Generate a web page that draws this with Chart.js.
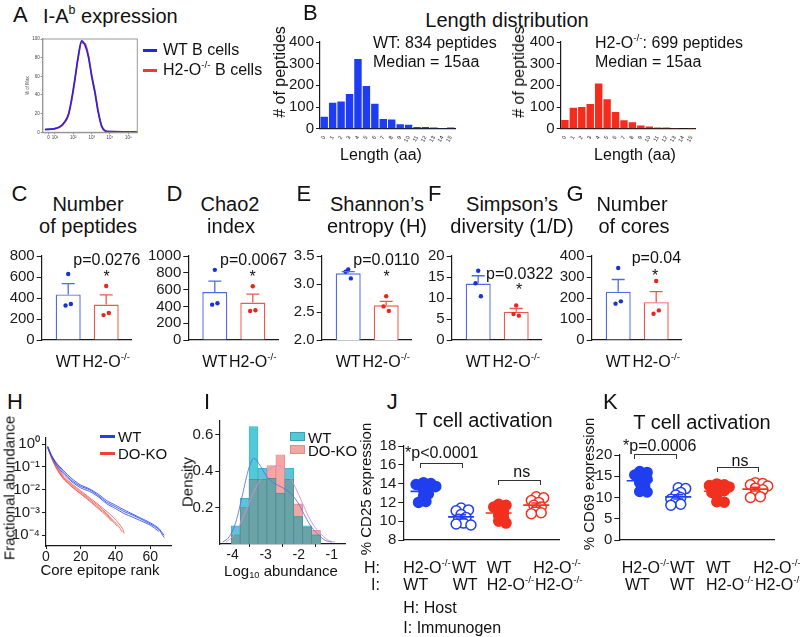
<!DOCTYPE html>
<html><head><meta charset="utf-8">
<script src="https://cdn.jsdelivr.net/npm/chart.js@4.4.1/dist/chart.umd.min.js"></script>
<style>
html,body{margin:0;padding:0;background:#fff}
#root{position:relative;width:800px;height:637px;overflow:hidden;background:#fff;font-family:"Liberation Sans",Arial,Helvetica,sans-serif;color:#111}
.t{position:absolute;white-space:nowrap;line-height:1}
canvas{position:absolute}
sup{font-size:0.62em;vertical-align:0.75em;line-height:0}
sub{font-size:0.62em;vertical-align:-0.3em;line-height:0}
.ln{position:absolute}
</style></head><body><div id="root"></div>
<script>
// ================= DATA =================
// A: I-Ab expression histogram (x in log10 units)
const aLog = [0.45,0.91,1.27,1.55,1.73,1.91,2.09,2.27,2.45,2.64,2.82,3.00,3.18,3.36,3.55,3.73,4.00,5.49];
const aWT  = [3,3.7,6,12,19,36,58,82,98,93,81,60,42,21,6,1.5,0.7,0.5];
const aKO  = [3,3.5,5.5,11,18,34,56,80,96,95,83,62,44,23,7,2,0.8,0.5];
const aTickPos = [0.64,1,2,3,4,5];
const aTickLab = ['0','10¹','10²','10³','10⁴','10⁵'];
const aYTicks = [0,20,40,60,80,100];

// B: length distribution
const bLengths = ['8','10','12','14','16','18','20','22','24','26','28','30','32','34','36','38'];
const bWT = [55,120,125,160,322,197,115,45,42,20,18,8,8,5,3,5];
const bKO = [40,97,100,114,209,136,77,39,30,15,10,6,5,3,2,3];
const bYTicks = [0,100,200,300,400];

// C-G: bar means, SEM tops, individual values
const cgGroups = ['WT','H2-O-/-'];
const cBar=[434,337], cErr=[537,429], cWT=[629,329,343], cKO=[515,237,257];
const dBar=[570,445], dErr=[700,545], dWT=[835,421,438], dKO=[640,345,355];
const eBar=[3.19,2.62], eErr=[3.22,2.69], eWT=[3.26,3.22,3.10], eKO=[2.78,2.60,2.52];
const fBar=[13.45,6.7], fErr=[15.3,7.5], fWT=[16.5,13.5,10.4], fKO=[8.2,6.2,5.8];
const gBar=[230,180], gErr=[288,230], gWT=[343,173,184], gKO=[281,125,141];
const cTicks=[0,200,400,600,800], dTicks=[0,200,400,600,800,1000], eTicks=[2.0,2.5,3.0,3.5], fTicks=[0,5,10,15,20], gTicks=[0,100,200,300,400];

// H: fractional abundance vs core epitope rank
const hRankWT = [1,3,6,10,15,20,25,30,35,40,45,50,55,60,65,68];
const hWT1 = [0.79,0.35,0.14,0.060,0.025,0.014,0.010,0.0056,0.0028,0.0018,0.0011,0.00076,0.00050,0.00032,0.00018,0.00008];
const hWT2 = [0.70,0.30,0.12,0.050,0.022,0.012,0.0085,0.0050,0.0024,0.0015,0.0009,0.00062,0.00042,0.00028,0.00015];
const hWT3 = [0.75,0.32,0.15,0.070,0.030,0.016,0.011,0.0065,0.0033,0.0021,0.0013,0.00085,0.00055,0.00036,0.00020,0.00010];
const hRankKO = [1,3,6,10,15,20,25,30,35,38,41,44,45];
const hKO1 = [0.80,0.30,0.10,0.035,0.016,0.008,0.0040,0.0020,0.0009,0.0005,0.0003,0.00014];
const hKO2 = [0.70,0.28,0.09,0.032,0.014,0.007,0.0035,0.0017,0.0008,0.00045,0.00025];
const hKO3 = [0.75,0.33,0.12,0.040,0.018,0.009,0.0045,0.0023,0.0011,0.0007,0.0004,0.0002,0.00012];
const hKO4 = [0.72,0.26,0.085,0.030,0.013,0.0065,0.0032,0.0015,0.0007,0.0004];
const hXTicks = [0,20,40,60];
const hYTicks = [1e-4,1e-3,1e-2,1e-1,1];
const hYLabels = ['10⁻⁴','10⁻³','10⁻²','10⁻¹','10⁰'];

// I: density histogram of log10 abundance
const iBins = [-3.905,-3.635,-3.365,-3.095,-2.825,-2.555,-2.285,-2.015,-1.745,-1.475];
const iWT = [0.10,0.25,0.645,0.415,0.36,0.28,0.415,0.15,0.10,0.05];
const iKO = [0.05,0.20,0.355,0.355,0.43,0.49,0.355,0.22,0.09,0.075];
const iKdeXWT = [-4.3,-4.1,-3.9,-3.7,-3.5,-3.35,-3.2,-3.0,-2.8,-2.6,-2.4,-2.2,-2.0,-1.8,-1.6,-1.4,-1.2,-1.0];
const iKdeWT  = [0.01,0.04,0.12,0.27,0.42,0.47,0.44,0.38,0.34,0.32,0.30,0.27,0.22,0.15,0.09,0.05,0.02,0.01];
const iKdeXKO = [-4.2,-4.0,-3.8,-3.6,-3.4,-3.2,-3.0,-2.8,-2.65,-2.5,-2.3,-2.1,-1.9,-1.7,-1.5,-1.3,-1.1,-0.9];
const iKdeKO  = [0.01,0.04,0.10,0.18,0.27,0.34,0.39,0.42,0.43,0.42,0.38,0.31,0.23,0.15,0.09,0.05,0.02,0.01];
const iXTicks = [-4,-3,-2,-1];
const iYTicks = [0.2,0.4,0.6];

// J: % CD25 expression
const jG1 = [14.1,14.0,13.9,13.7,13.3,12.9,12.6,12.1,12.0];
const jG2 = [11.4,11.2,11.1,10.7,10.4,10.2,9.8,9.6,9.7];
const jG3 = [11.8,11.7,11.5,11.2,10.9,10.6,10.3,10.0,9.8];
const jG4 = [12.6,12.5,12.2,12.0,11.7,11.5,11.2,10.9,10.8];
const jTicks = [8,10,12,14,16,18];
// K: % CD69 expression
const kG1 = [16.1,15.9,15.3,15.0,14.3,13.5,12.8,11.4,11.3];
const kG2 = [12.3,12.1,11.2,10.6,10.0,9.6,9.0,8.4,8.2];
const kG3 = [13.2,13.0,12.8,12.5,12.0,11.6,11.2,10.6,9.0,8.9];
const kG4 = [13.5,13.3,13.0,12.7,12.2,11.8,11.0,10.2,10.0];
const kTicks = [0,5,10,15,20];

// ================= STYLE / HELPERS =================
const FONT = '"Liberation Sans", Arial, Helvetica, sans-serif';
const INK = '#1a1a1a';
const BLUE = '#1f3ff0', RED = '#f2301f';
const root = document.getElementById('root');
Chart.defaults.font.family = FONT;
Chart.defaults.color = INK;
Chart.defaults.animation = false;
Chart.defaults.responsive = false;
Chart.defaults.maintainAspectRatio = false;
Chart.defaults.plugins.legend.display = false;
Chart.defaults.plugins.tooltip.enabled = false;

function txt(x, y, html, size, align, extra) {
  const d = document.createElement('div');
  d.className = 't';
  d.innerHTML = html;
  d.style.left = x + 'px'; d.style.top = y + 'px'; d.style.fontSize = size + 'px';
  const tx = align === 'center' ? '-50%' : align === 'right' ? '-100%' : '0';
  d.style.transform = 'translate(' + tx + ',-50%)' + (extra || '');
  root.appendChild(d); return d;
}
function vtxt(x, y, html, size) { return txt(x, y, html, size, 'center', ' rotate(-90deg)'); }
function box(l, t, w, h, css) {
  const d = document.createElement('div'); d.className = 'ln';
  d.style.left = l + 'px'; d.style.top = t + 'px'; d.style.width = w + 'px'; d.style.height = h + 'px';
  d.style.cssText += css; root.appendChild(d); return d;
}
function bracket(x1, x2, y, leg) {
  box(x1, y, x2 - x1, leg, 'border:1.2px solid #333;border-bottom:none;box-sizing:border-box;');
}

function yAx(o) {
  return {
    type: o.type || 'linear', min: o.min, max: o.max, position: 'left',
    afterBuildTicks: s => { s.ticks = o.ticks.map(v => ({value: v})); },
    ticks: {font: {size: o.fs || 15}, color: o.tc || INK, padding: (o.pad !== undefined ? o.pad : 2), autoSkip: false,
            callback: o.cb || (v => v)},
    grid: {display: true, drawOnChartArea: false, drawTicks: true, tickLength: (o.tl !== undefined ? o.tl : 5), color: o.col || INK, lineWidth: 1},
    border: {display: true, color: o.col || INK, width: 1.2}
  };
}
function xAx(o) {
  const a = {
    type: o.type || 'linear', min: o.min, max: o.max, position: 'bottom', offset: !!o.offset,
    ticks: {display: !!o.ticks, font: {size: o.fs || 15}, color: o.tc || INK, padding: (o.pad !== undefined ? o.pad : 2), autoSkip: false,
            maxRotation: o.rot || 0, minRotation: o.rot || 0, callback: o.cb || (v => v)},
    grid: {display: !!o.gridTicks, drawOnChartArea: false, drawTicks: true, tickLength: (o.tl !== undefined ? o.tl : 5), color: o.col || INK, lineWidth: 1},
    border: {display: true, color: o.col || INK, width: 1.2}
  };
  if (o.tickVals) a.afterBuildTicks = s => { s.ticks = o.tickVals.map(v => ({value: v})); };
  return a;
}
// place a chart so that its chart area lands at the given page rectangle
function mk(area, pad, cfg) {
  const L = Math.floor(area.l - pad.yW), T = Math.floor(area.t - pad.top);
  const W = Math.ceil(area.r + pad.right - L), H = Math.ceil(area.b + pad.xH - T);
  const c = document.createElement('canvas');
  c.width = W; c.height = H;
  c.style.left = L + 'px'; c.style.top = T + 'px'; c.style.width = W + 'px'; c.style.height = H + 'px';
  root.appendChild(c);
  const yW = area.l - L, top = area.t - T, right = W - (area.r - L), xH = H - (area.b - T);
  cfg.options = cfg.options || {};
  cfg.options.layout = {padding: {left: 0, top: top, right: right, bottom: 0}};
  cfg.options.scales.x.afterFit = s => { s.height = xH; };
  cfg.options.scales.y.afterFit = s => { s.width = yW; };
  return new Chart(c, cfg);
}
function framePlugin(color) {
  return {id: 'frame', afterDraw(chart) {
    const a = chart.chartArea, ctx = chart.ctx;
    ctx.save(); ctx.strokeStyle = color; ctx.lineWidth = 1;
    ctx.strokeRect(a.left, a.top, a.right - a.left, a.bottom - a.top); ctx.restore();
  }};
}

// ================= PANEL A =================
txt(13, 15, 'A', 22);
txt(43, 16, 'I-A<sup>b</sup> expression', 20);
mk({l: 42.7, t: 39, r: 137.3, b: 132.3}, {yW: 17, xH: 10, top: 6, right: 6}, {
  type: 'line',
  data: {datasets: [
    {data: aLog.map((x, i) => ({x: x, y: aWT[i]})), borderColor: '#2424e8', borderWidth: 1.6, pointRadius: 0, cubicInterpolationMode: 'monotone', order: 1},
    {data: aLog.map((x, i) => ({x: x, y: aKO[i]})), borderColor: '#ec3a3a', borderWidth: 1.6, pointRadius: 0, cubicInterpolationMode: 'monotone', order: 2}
  ]},
  options: {scales: {
    x: Object.assign(xAx({min: 0.33, max: 5.49, ticks: true, gridTicks: true, tickVals: aTickPos, fs: 4.5, tl: 2, pad: 1, col: '#888', tc: '#444', cb: (v, i) => aTickLab[i]})),
    y: Object.assign(yAx({min: 0, max: 100, ticks: aYTicks, fs: 4.5, tl: 2, pad: 1, col: '#888', tc: '#444'}),
      {title: {display: true, text: '% of Max', font: {size: 4.5}, color: '#444', padding: 0}})
  }},
  plugins: [framePlugin('#9a9a9a')]
});
box(143, 48.5, 14, 3, 'background:#2424e8;');
box(143, 68.5, 14, 3, 'background:#ec3a3a;');
txt(163, 50, 'WT B cells', 16);
txt(163, 70, 'H2-O<sup>-/-</sup> B cells', 16);

// ================= PANEL B =================
txt(303, 13, 'B', 22);
txt(507, 20, 'Length distribution', 20, 'center');
function bChart(l, vals, color) {
  mk({l: l, t: 41, r: l + 135, b: 128.7}, {yW: 36, xH: 14, top: 10, right: 6}, {
    type: 'bar',
    data: {labels: bLengths, datasets: [{data: vals, backgroundColor: color, barPercentage: 0.88, categoryPercentage: 1}]},
    options: {scales: {
      x: xAx({type: 'category', offset: true, ticks: true, fs: 5.5, rot: 60, pad: 1}),
      y: yAx({min: 0, max: 400, ticks: bYTicks, fs: 15, tl: 4})
    }}
  });
}
bChart(320, bWT, '#1e3cf2');
bChart(560.7, bKO, '#f52b1e');
vtxt(280, 72, '# of peptides', 16);
vtxt(519, 72, '# of peptides', 16);
txt(381, 155, 'Length (aa)', 16, 'center');
txt(635, 155, 'Length (aa)', 16, 'center');
txt(373, 43, 'WT: 834 peptides', 16);
txt(373, 62, 'Median = 15aa', 16);
txt(595, 43, 'H2-O<sup>-/-</sup>: 699 peptides', 16);
txt(595, 62, 'Median = 15aa', 16);

// ================= PANELS C-G =================
const CG_WT_BORDER = '#4f6ce6', CG_KO_BORDER = '#f0574a', CG_WT_DOT = '#1632d8', CG_KO_DOT = '#e8261c';
const dotJit = [0, -0.07, 0.07];
const cgSpecs = [
  {A: 41.7,  min: 0, max: 800,  ticks: cTicks, bar: cBar, err: cErr, wt: cWT, ko: cKO, cb: v => v,
   letter: ['C', 11.5], t1: ['Number', 88], t2: ['of peptides', 88], p: ['p=0.0276', 73.3, 260], star: [106.7, 277]},
  {A: 188.3, min: 0, max: 1000, ticks: dTicks, bar: dBar, err: dErr, wt: dWT, ko: dKO, cb: v => v,
   letter: ['D', 166.5], t1: ['Chao2', 230], t2: ['index', 231], p: ['p=0.0067', 220, 260], star: [252.7, 277]},
  {A: 321.7, min: 2, max: 3.5,  ticks: eTicks, bar: eBar, err: eErr, wt: eWT, ko: eKO, cb: v => v.toFixed(1),
   letter: ['E', 296.5], t1: ['Shannon’s', 377], t2: ['entropy (H)', 377], p: ['p=0.0110', 353.3, 260], star: [386.7, 277]},
  {A: 451.7, min: 0, max: 20,   ticks: fTicks, bar: fBar, err: fErr, wt: fWT, ko: fKO, cb: v => v,
   letter: ['F', 428], t1: ['Simpson’s', 512], t2: ['diversity (1/D)', 512], p: ['p=0.0322', 486, 274], star: [519, 290]},
  {A: 591.7, min: 0, max: 400,  ticks: gTicks, bar: gBar, err: gErr, wt: gWT, ko: gKO, cb: v => v,
   letter: ['G', 566.5], t1: ['Number', 632], t2: ['of cores', 634], p: ['p=0.04', 631.7, 257.5], star: [655, 276]}
];
cgSpecs.forEach(s => {
  const errPlugin = {id: 'cgErr', afterDatasetsDraw(chart) {
    const ctx = chart.ctx, x = chart.scales.x, y = chart.scales.y;
    s.bar.forEach((b, i) => {
      const px = x.getPixelForValue(i + 1), y0 = y.getPixelForValue(b), y1 = y.getPixelForValue(s.err[i]);
      ctx.save(); ctx.strokeStyle = i ? CG_KO_BORDER : CG_WT_BORDER; ctx.lineWidth = 1.3;
      ctx.beginPath(); ctx.moveTo(px, y0); ctx.lineTo(px, y1); ctx.moveTo(px - 6.5, y1); ctx.lineTo(px + 6.5, y1); ctx.stroke();
      ctx.restore();
    });
  }};
  mk({l: s.A, t: 255.5, r: s.A + 90, b: 348.3}, {yW: 42, xH: 2, top: 10, right: 4}, {
    type: 'bar',
    data: {datasets: [
      {type: 'bar', data: s.bar.map((v, i) => ({x: i + 1, y: v})), backgroundColor: '#ffffff',
       borderColor: [CG_WT_BORDER, CG_KO_BORDER], borderWidth: 1.4, borderSkipped: 'bottom',
       barPercentage: 0.658, categoryPercentage: 1, order: 3},
      {type: 'line', showLine: false, data: s.wt.map((v, k) => ({x: 1 + dotJit[k], y: v})), pointRadius: 2.2,
       pointBackgroundColor: CG_WT_DOT, pointBorderWidth: 0, order: 1},
      {type: 'line', showLine: false, data: s.ko.map((v, k) => ({x: 2 + dotJit[k], y: v})), pointRadius: 2.2,
       pointBackgroundColor: CG_KO_DOT, pointBorderWidth: 0, order: 2}
    ]},
    options: {scales: {
      x: xAx({min: 1 - 26.5 / 38, max: 2 + 25.5 / 38, tickVals: [1, 2]}),
      y: yAx({min: s.min, max: s.max, ticks: s.ticks, cb: s.cb, fs: 15})
    }},
    plugins: [errPlugin]
  });
  txt(s.letter[1], 194, s.letter[0], 22);
  txt(s.t1[1], 204, s.t1[0], 20, 'center');
  txt(s.t2[1], 226, s.t2[0], 20, 'center');
  txt(s.p[1], s.p[2], s.p[0], 16);
  txt(s.star[0], s.star[1], '*', 16, 'center');
  txt(s.A + 26.5, 361.7, cgGroups[0], 16, 'center');
  txt(s.A + 64.5, 361.7, 'H2-O<sup>-/-</sup>', 16, 'center');
});

// ================= PANEL H =================
txt(7, 402, 'H', 22);
const hWTc = 'rgba(40,70,240,0.85)', hKOc = 'rgba(240,70,60,0.75)';
function hSet(ranks, vals, col, ord) {
  return {data: vals.map((v, i) => ({x: ranks[i], y: v})), borderColor: col, borderWidth: 1, pointRadius: 0, tension: 0.2, order: ord};
}
mk({l: 46, t: 435, r: 171, b: 546}, {yW: 38, xH: 16, top: 8, right: 8}, {
  type: 'line',
  data: {datasets: [
    hSet(hRankWT, hWT1, hWTc, 1), hSet(hRankWT, hWT2, hWTc, 1), hSet(hRankWT, hWT3, hWTc, 1),
    hSet(hRankKO, hKO1, hKOc, 2), hSet(hRankKO, hKO2, hKOc, 2), hSet(hRankKO, hKO3, hKOc, 2), hSet(hRankKO, hKO4, hKOc, 2)
  ]},
  options: {scales: {
    x: xAx({min: 0, max: 72, ticks: true, gridTicks: true, tickVals: hXTicks, fs: 14, tl: 3, pad: 0}),
    y: yAx({type: 'logarithmic', min: Math.pow(10, -4.47), max: Math.pow(10, 0.27), ticks: hYTicks, fs: 15, tl: 4,
            cb: (v, i) => hYLabels[i]})
  }}
});
box(100, 434.5, 15, 3, 'background:#1f3ff0;');
box(100, 451.5, 15, 3, 'background:#f04238;');
txt(118, 436, 'WT', 15);
txt(118, 453, 'DO-KO', 15);
vtxt(9, 488, 'Fractional abundance', 15);
txt(100, 569, 'Core epitope rank', 15, 'center');

// ================= PANEL I =================
txt(204, 402, 'I', 22);
mk({l: 219.3, t: 420, r: 345, b: 544}, {yW: 32, xH: 16, top: 10, right: 8}, {
  type: 'bar',
  data: {datasets: [
    {type: 'line', data: iKdeXWT.map((x, i) => ({x: x, y: iKdeWT[i]})), borderColor: 'rgba(90,110,230,0.85)', borderWidth: 1, pointRadius: 0, cubicInterpolationMode: 'monotone', order: 0},
    {type: 'line', data: iKdeXKO.map((x, i) => ({x: x, y: iKdeKO[i]})), borderColor: 'rgba(215,140,225,0.9)', borderWidth: 1, pointRadius: 0, cubicInterpolationMode: 'monotone', order: 0},
    {type: 'bar', grouped: false, data: iBins.map((x, i) => ({x: x, y: Math.min(iWT[i], iKO[i])})), backgroundColor: '#6aa4a8', borderColor: '#4f8c93', borderWidth: 0.8, barPercentage: 1, categoryPercentage: 1, order: 1},
    {type: 'bar', grouped: false, data: iBins.map((x, i) => ({x: x, y: iWT[i]})), backgroundColor: '#52c8d8', borderColor: '#3fb0c2', borderWidth: 0.8, barPercentage: 1, categoryPercentage: 1, order: 2},
    {type: 'bar', grouped: false, data: iBins.map((x, i) => ({x: x, y: iKO[i]})), backgroundColor: '#f5a6a4', borderColor: '#e58a88', borderWidth: 0.8, barPercentage: 1, categoryPercentage: 1, order: 3}
  ]},
  options: {scales: {
    x: xAx({min: -4.4, max: -0.6, ticks: true, gridTicks: true, tickVals: iXTicks, fs: 14, tl: 3, pad: 0}),
    y: yAx({min: 0, max: 0.675, ticks: iYTicks, fs: 15, tl: 4, cb: v => v.toFixed(1)})
  }}
});
box(290, 432, 15, 9, 'background:#52c8d8;border:1px solid #3fa0b2;box-sizing:border-box;');
box(290, 445, 15, 9, 'background:#f5a6a4;border:1px solid #e58a88;box-sizing:border-box;');
txt(308, 437, 'WT', 15);
txt(308, 450, 'DO-KO', 15);
vtxt(187, 482, 'Density', 15);
txt(281, 570, 'Log<sub>10</sub> abundance', 15, 'center');

// ================= PANELS J, K =================
function mean(a) { return a.reduce((s, v) => s + v, 0) / a.length; }
function sem(a) { const m = mean(a); return Math.sqrt(a.reduce((s, v) => s + (v - m) * (v - m), 0) / (a.length - 1) / a.length); }
function swarm(vals, center, pxX, pxY, minD, step) {
  const placed = [], out = new Array(vals.length);
  const order = vals.map((v, i) => i).sort((a, b) => vals[b] - vals[a]);
  for (const i of order) {
    const yp = vals[i] * pxY; let off = 0;
    for (let n = 0; n < 60; n++) {
      off = n === 0 ? 0 : (n % 2 ? 1 : -1) * Math.ceil(n / 2) * step;
      if (placed.every(p => Math.hypot(p.x - off, p.y - yp) >= minD)) break;
    }
    placed.push({x: off, y: yp});
    out[i] = {x: center + off / pxX, y: vals[i]};
  }
  return out;
}
function tChart(area, xmin, xmax, ymin, ymax, ticks, groups, pxX, pxY) {
  const styles = [
    {bg: BLUE, bd: BLUE}, {bg: '#ffffff', bd: BLUE}, {bg: RED, bd: RED}, {bg: '#ffffff', bd: RED}
  ];
  const msPlugin = {id: 'meanSem', afterDatasetsDraw(chart) {
    const ctx = chart.ctx, x = chart.scales.x, y = chart.scales.y;
    groups.forEach((g, i) => {
      const m = mean(g), e = sem(g), px = x.getPixelForValue(i + 1);
      const ym = y.getPixelForValue(m), y1 = y.getPixelForValue(m + e), y2 = y.getPixelForValue(m - e);
      ctx.save(); ctx.strokeStyle = styles[i].bd; ctx.lineWidth = 1.6;
      ctx.beginPath();
      ctx.moveTo(px - 13, ym); ctx.lineTo(px + 13, ym);
      ctx.moveTo(px, y1); ctx.lineTo(px, y2);
      ctx.moveTo(px - 5, y1); ctx.lineTo(px + 5, y1);
      ctx.moveTo(px - 5, y2); ctx.lineTo(px + 5, y2);
      ctx.stroke(); ctx.restore();
    });
  }};
  mk(area, {yW: 30, xH: 2, top: 10, right: 4}, {
    type: 'scatter',
    data: {datasets: groups.map((g, i) => ({
      data: swarm(g, i + 1, pxX, pxY, 5.5, 2.5),
      pointRadius: 5, pointBackgroundColor: styles[i].bg, pointBorderColor: styles[i].bd, pointBorderWidth: 1.5
    }))},
    options: {scales: {
      x: xAx({min: xmin, max: xmax, tickVals: [1, 2, 3, 4]}),
      y: yAx({min: ymin, max: ymax, ticks: ticks, fs: 15, tl: 5})
    }},
    plugins: [msPlugin]
  });
}
tChart({l: 403.3, t: 445, r: 562, b: 548.3}, 1 - 20.5 / 38.2, 4 + 23.6 / 38.2, 8, 18, jTicks, [jG1, jG2, jG3, jG4], 38.2, 10.33);
tChart({l: 619.3, t: 454, r: 776.7, b: 548.3}, 1 - 20.7 / 39.1, 4 + 19.4 / 39.1, 0, 20, kTicks, [kG1, kG2, kG3, kG4], 39.1, 4.715);

// J texts
txt(386.7, 402, 'J', 22);
txt(484, 420, 'T cell activation', 20, 'center');
vtxt(365, 489, '% CD25 expression', 15);
txt(405, 453, '*p&lt;0.0001', 16);
bracket(420, 463.3, 463, 5);
txt(521.7, 471.5, 'ns', 16, 'center');
bracket(498.3, 540.7, 480, 5);
txt(380, 568.3, 'H:', 16, 'right');
txt(380, 585.3, 'I:', 16, 'right');
txt(403.3, 568.3, 'H2-O<sup>-/-</sup>', 16);
txt(451.7, 568.3, 'WT', 16);
txt(486.7, 568.3, 'WT', 16);
txt(533.3, 568.3, 'H2-O<sup>-/-</sup>', 16);
txt(403.3, 585.3, 'WT', 16);
txt(452.7, 585.3, 'WT', 16);
txt(486.7, 585.3, 'H2-O<sup>-/-</sup>', 16);
txt(535, 585.3, 'H2-O<sup>-/-</sup>', 16);
txt(403.3, 608.3, 'H: Host', 16);
txt(403.3, 628.3, 'I: Immunogen', 16);

// K texts
txt(603, 402, 'K', 22);
txt(702, 422, 'T cell activation', 20, 'center');
vtxt(588.3, 484, '% CD69 expression', 15);
txt(623, 446, '*p=0.0006', 16);
bracket(634, 676.7, 454, 5);
txt(740, 460.5, 'ns', 16, 'center');
bracket(716.7, 759.3, 467, 5);
txt(621.7, 568.3, 'H2-O<sup>-/-</sup>', 16);
txt(670, 568.3, 'WT', 16);
txt(706, 568.3, 'WT', 16);
txt(753.3, 568.3, 'H2-O<sup>-/-</sup>', 16);
txt(625, 585.3, 'WT', 16);
txt(670, 585.3, 'WT', 16);
txt(706, 585.3, 'H2-O<sup>-/-</sup>', 16);
txt(755, 585.3, 'H2-O<sup>-/-</sup>', 16);
</script></body></html>
